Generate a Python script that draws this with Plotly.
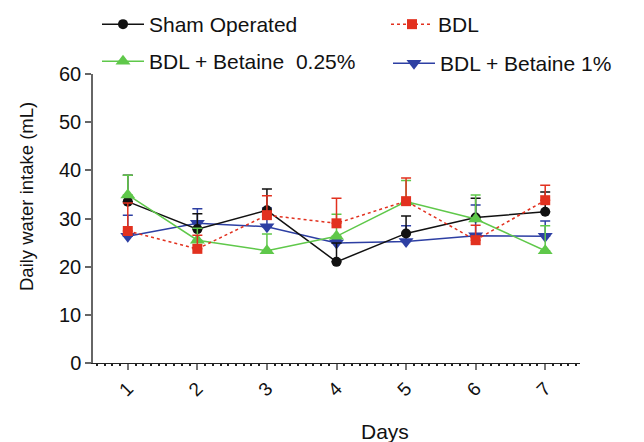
import plotly.graph_objects as go

days = [1, 2, 3, 4, 5, 6, 7]
day_labels = ["1", "2", "3", "4", "5", "6", "7"]

sham = [33.5, 27.8, 31.7, 21.0, 26.9, 30.2, 31.4]
sham_err = [5.5, 3.2, 4.4, 3.9, 3.6, 4.0, 4.1]

bdl = [27.4, 23.7, 30.7, 29.0, 33.6, 25.5, 33.8]
bdl_err = [5.8, 2.8, 4.0, 5.2, 4.8, 3.1, 3.1]

bet025 = [34.9, 25.5, 23.3, 26.3, 33.5, 29.9, 23.3]
bet025_err = [4.1, 2.5, 3.5, 4.6, 4.4, 5.0, 5.2]

bet1 = [26.3, 29.0, 28.3, 24.9, 25.2, 26.4, 26.3]
bet1_err = [4.4, 3.0, 3.9, 0.8, 3.3, 6.4, 3.2]

BLACK = "#111111"
RED = "#e2311f"
GREEN = "#5fc84a"
BLUE = "#2d3fa3"
FONT = "Liberation Sans, Arial, sans-serif"

def trace(name, y, err, color, symbol, size, dash, legend):
    return go.Scatter(
        x=days, y=y, name=name, mode="lines+markers",
        line=dict(color=color, width=1.5, dash=dash),
        marker=dict(color=color, symbol=symbol, size=size),
        error_y=dict(type="data", array=err, arrayminus=[0] * len(err),
                     symmetric=False, color=color, thickness=1.5, width=5),
        legend=legend,
    )

fig = go.Figure()
fig.add_trace(trace("BDL + Betaine 1%", bet1, bet1_err, BLUE, "triangle-down", 13, "solid", "legend4"))
fig.add_trace(trace("Sham Operated", sham, sham_err, BLACK, "circle", 10, "solid", "legend"))
fig.add_trace(trace("BDL + Betaine\u00a0\u00a00.25%", bet025, bet025_err, GREEN, "triangle-up", 13, "solid", "legend3"))
fig.add_trace(trace("BDL", bdl, bdl_err, RED, "square", 10, "dot", "legend2"))

def leg(xpx, ypx):
    return dict(orientation="h", xref="container", yref="container",
                xanchor="left", yanchor="top", itemwidth=42,
                x=xpx / 644, y=1 - ypx / 442,
                font=dict(family=FONT, size=21, color="#111"),
                bgcolor="rgba(0,0,0,0)")

fig.update_layout(
    width=644, height=442,
    margin=dict(l=93, r=64, t=74, b=79, autoexpand=False),
    paper_bgcolor="white", plot_bgcolor="white",
    font=dict(family=FONT, color="#111"),
    showlegend=True,
    legend=leg(97, 4),
    legend2=leg(386, 4),
    legend3=leg(97, 41),
    legend4=leg(388, 43),
    xaxis=dict(
        range=[0.5, 7.5], tickmode="array", tickvals=days, ticktext=day_labels,
        tickangle=-45, tickfont=dict(size=19, family=FONT, color="#111"),
        showline=True, linecolor="#222", linewidth=1.2,
        ticks="outside", ticklen=6, tickcolor="#777", tickwidth=1.5,
        showgrid=False, zeroline=False,
        minor=dict(dtick=1 / 9, tick0=1, ticks="outside", ticklen=2,
                   tickwidth=2, tickcolor="#222", showgrid=False),
    ),
    yaxis=dict(
        range=[0, 60], tickvals=[0, 10, 20, 30, 40, 50, 60],
        tickfont=dict(size=20, family=FONT, color="#111"),
        showline=True, linecolor="#666", linewidth=1.5,
        ticks="outside", ticklen=6, tickcolor="#666", tickwidth=1.5,
        showgrid=False, zeroline=False,
    ),
    annotations=[
        dict(text="Days", xref="paper", yref="paper",
             x=(384.5 - 93) / 487, y=(363 - 431) / 289,
             xanchor="center", yanchor="middle", showarrow=False,
             font=dict(size=21, family=FONT, color="#111")),
        dict(text="Daily water intake (mL)", xref="paper", yref="paper",
             x=(26 - 93) / 487, y=(363 - 197) / 289, textangle=-90,
             xanchor="center", yanchor="middle", showarrow=False,
             font=dict(size=18.5, family=FONT, color="#111")),
    ],
)

fig.write_html("out.html")
